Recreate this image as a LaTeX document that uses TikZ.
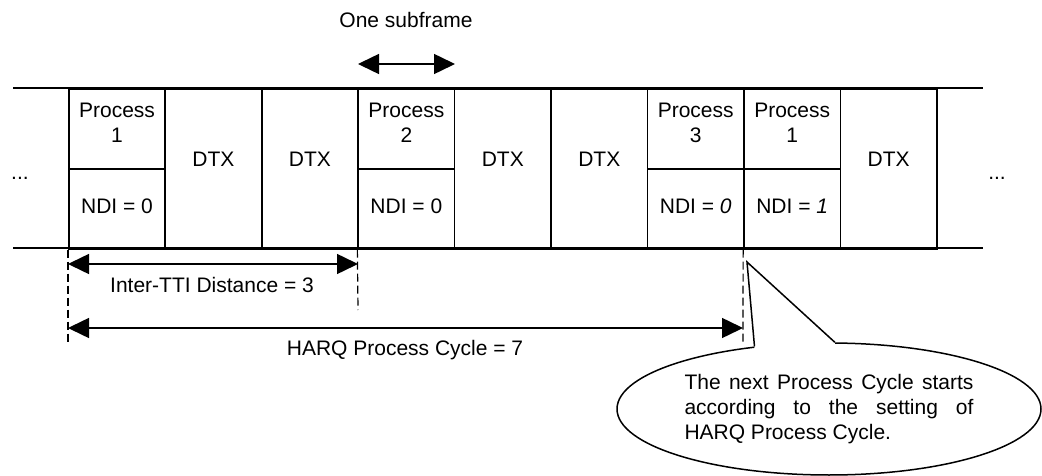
\documentclass[tikz,border=0pt]{standalone}
\usepackage{fontspec}
\setmainfont{Liberation Sans}
\usetikzlibrary{arrows.meta, shapes.geometric}

\begin{document}
\begin{tikzpicture}[
    x=1pt, y=-1pt,
    every node/.style={font=\fontsize{21}{25}\selectfont},
    slot/.style={rectangle, draw, line width=1.6pt, inner sep=0pt, minimum width=96.45pt, minimum height=160pt, anchor=north west},
    halfslot/.style={slot, minimum height=80pt},
    txt/.style={inner sep=0pt, align=center},
    rail/.style={line width=1.6pt},
    dimline/.style={<->, >={Triangle[length=21pt, width=20pt]}, line width=1.5pt},
    guideline/.style={dash pattern=on 8pt off 4pt, line width=1.2pt},
    bubble/.style={ellipse, draw, line width=1.5pt, fill=white, minimum width=424pt, minimum height=132pt, inner sep=0pt, text width=289pt, align=justify}
]
\useasboundingbox (0,0) rectangle (1042,476);

% =====================================================================
% TIMELINE RAILS
% =====================================================================
\coordinate (railNW) at (13,88);
\coordinate (railNE) at (983,88);
\coordinate (railSW) at (13,248);
\coordinate (railSE) at (983,248);
\draw[rail] (railNW) -- (railNE);
\draw[rail] (railSW) -- (railSE);

% =====================================================================
% SUBFRAMES
% =====================================================================

% DTX slots
\foreach \i in {2,3,5,6,9} {
    \node[slot] (s\i) at ({68+96.45*(\i-1)},88) {};
    \node[txt] (t\i) at ([yshift=10pt]s\i.center) {DTX};
}

% HARQ process slots
\foreach \i/\p/\n in {1/1/0, 4/2/0, 7/3/\textit{0}, 8/1/\textit{1}} {
    \node[halfslot] (s\i) at ({68+96.45*(\i-1)},88) {};
    \node[halfslot] (b\i) at ({68+96.45*(\i-1)},168) {};
    \node[txt] (t\i) at ([yshift=6pt]s\i.center) {Process\\\p};
    \node[txt] (n\i) at ([yshift=3pt]b\i.center) {NDI = \n};
}

% Continuation dots
\node[txt, anchor=base] (dotsL) at (20,179) {...};
\node[txt, anchor=base] (dotsR) at (997,179) {...};

% =====================================================================
% ONE SUBFRAME
% =====================================================================
\node[txt] (sublbl) at (406,20) {One subframe};
\coordinate (subL) at (358,64);
\coordinate (subR) at (455,64);
\draw[dimline] (subL) -- (subR);

% =====================================================================
% DISTANCES
% =====================================================================
\coordinate (g1) at (68,343);
\coordinate (g4) at (358,310);
\coordinate (g8) at (743,343);
\draw[guideline] (b1.south west) -- (g1);
\draw[guideline] (b4.south west) -- (g4);
\draw[guideline] (b8.south west) -- (g8);

% Inter-TTI distance
\coordinate (ttiL) at (68,264);
\coordinate (ttiR) at (358,264);
\draw[dimline] (ttiL) -- (ttiR);
\node[txt] (ttilbl) at (212,285) {Inter-TTI Distance = 3};

% HARQ process cycle
\coordinate (cycL) at (68,328);
\coordinate (cycR) at (743,328);
\draw[dimline] (cycL) -- (cycR);
\node[txt] (cyclbl) at (405,350) {HARQ Process Cycle = 7};

% =====================================================================
% CALLOUT
% =====================================================================
\node[bubble] (note) at (829,409) {\tolerance=10000 The next Process Cycle starts\linebreak according to the setting of\linebreak HARQ Process Cycle.};
\coordinate (tip) at (747,262);
\fill[white] (note.140) -- (tip) -- (note.85) -- ([yshift=-10pt]note.85) -- ([yshift=-10pt]note.140) -- cycle;
\draw[line width=1.5pt] (note.140) -- (tip) -- (note.85);

\end{tikzpicture}
\end{document}
